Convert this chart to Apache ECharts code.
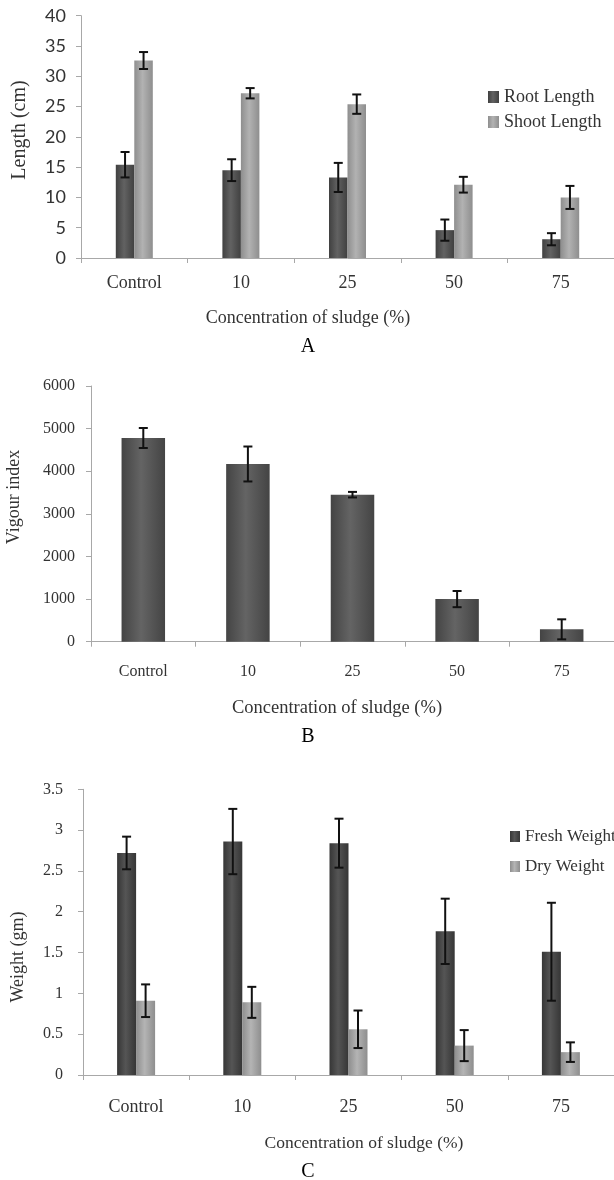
<!DOCTYPE html>
<html>
<head>
<meta charset="utf-8">
<script src="https://cdn.jsdelivr.net/npm/echarts@6/dist/echarts.min.js"></script>
<style>
html,body{margin:0;padding:0;background:#fff;}
#main{width:614px;height:1180px;}
</style>
</head>
<body>
<div id="main"></div>
<script>
const categories = ['Control', '10', '25', '50', '75'];
const lengthTicks = [0, 40, 5];
const rootLength = [15.4, 14.5, 13.3, 4.6, 3.1];
const rootErr = [2.1, 1.8, 2.4, 1.75, 1.0];
const shootLength = [32.6, 27.2, 25.4, 12.1, 10.0];
const shootErr = [1.4, 0.85, 1.6, 1.3, 1.9];
const vigourTicks = [0, 6000, 1000];
const vigourIndex = [4780, 4170, 3450, 1000, 290];
const vigourErr = [235, 410, 65, 190, 235];
const weightTicks = [0, 3.5, 0.5];
const freshWeight = [2.72, 2.86, 2.84, 1.76, 1.51];
const freshErr = [0.2, 0.4, 0.3, 0.4, 0.6];
const dryWeight = [0.91, 0.89, 0.56, 0.36, 0.28];
const dryErr = [0.2, 0.19, 0.23, 0.19, 0.12];

const SERIF = "'Liberation Serif', 'DejaVu Serif', serif";
const SANS = "Lato, 'Liberation Sans', sans-serif";
const AXIS_COLOR = '#a8a8a8';
const TEXT = '#333';

function grad(edge, mid) {
  return new echarts.graphic.LinearGradient(0, 0, 1, 0, [
    {offset: 0, color: edge}, {offset: 0.45, color: mid}, {offset: 1, color: edge}
  ]);
}
function errData(vals, errs) {
  return vals.map((v, i) => [i, v - errs[i], v + errs[i]]);
}
function errSeries(idx, vals, errs, offset) {
  return {
    type: 'custom', xAxisIndex: idx, yAxisIndex: idx, z: 10,
    encode: {x: 0, y: [1, 2]},
    data: errData(vals, errs),
    renderItem: function (params, api) {
      const i = api.value(0);
      const lo = api.coord([i, api.value(1)]);
      const hi = api.coord([i, api.value(2)]);
      const x = lo[0] + offset;
      const c = 4.5;
      const st = {stroke: '#111', lineWidth: 2};
      return {type: 'group', children: [
        {type: 'line', shape: {x1: x, y1: hi[1], x2: x, y2: lo[1]}, style: st},
        {type: 'line', shape: {x1: x - c, y1: hi[1], x2: x + c, y2: hi[1]}, style: st},
        {type: 'line', shape: {x1: x - c, y1: lo[1], x2: x + c, y2: lo[1]}, style: st}
      ]};
    }
  };
}
function xAx(idx, size, margin) {
  return {
    type: 'category', gridIndex: idx, data: categories,
    axisLine: {show: true, lineStyle: {color: AXIS_COLOR, width: 1}},
    axisTick: {show: true, length: 5, lineStyle: {color: AXIS_COLOR}},
    axisLabel: {fontFamily: SERIF, fontSize: size, color: TEXT, margin: margin},
    splitLine: {show: false}
  };
}
function yAx(idx, ticks, font, size, margin) {
  return {
    type: 'value', gridIndex: idx, min: ticks[0], max: ticks[1], interval: ticks[2],
    axisLine: {show: true, lineStyle: {color: AXIS_COLOR, width: 1}},
    axisTick: {show: true, length: 5, lineStyle: {color: AXIS_COLOR}},
    axisLabel: {fontFamily: font, fontSize: size, color: TEXT, margin: margin,
      formatter: function (v) { return String(v); }},
    splitLine: {show: false}
  };
}
function txt(x, y, text, size, rot, color) {
  return {type: 'text', x: x, y: y, rotation: rot || 0,
    style: {text: text, fontFamily: SERIF, fontSize: size, fill: color || TEXT,
      align: 'center', verticalAlign: 'middle'}};
}

const chart = echarts.init(document.getElementById('main'), null, {renderer: 'canvas'});
chart.setOption({
  animation: false,
  backgroundColor: '#fff',
  grid: [
    {left: 81, top: 15.7, width: 543.5, height: 242.3},
    {left: 91, top: 386, width: 545, height: 255.7},
    {left: 83, top: 789.3, width: 567, height: 285.7}
  ],
  xAxis: [xAx(0, 18, 16), xAx(1, 16, 22), xAx(2, 18, 23)],
  yAxis: [
    yAx(0, lengthTicks, SANS, 18, 15),
    yAx(1, vigourTicks, SERIF, 16, 16),
    yAx(2, weightTicks, SERIF, 16, 20)
  ],
  legend: [
    {orient: 'vertical', left: 483, top: 83, itemWidth: 11, itemHeight: 12, itemGap: 7,
      icon: 'rect', data: ['Root Length', 'Shoot Length'],
      textStyle: {fontFamily: SERIF, fontSize: 18, color: TEXT, lineHeight: 18}},
    {orient: 'vertical', left: 505, top: 823, itemWidth: 10, itemHeight: 11, itemGap: 13,
      icon: 'rect', data: ['Fresh Weight', 'Dry Weight'],
      textStyle: {fontFamily: SERIF, fontSize: 17, color: TEXT, lineHeight: 17}}
  ],
  graphic: [
    txt(20, 130, 'Length (cm)', 20, Math.PI / 2),
    txt(308, 318, 'Concentration of sludge (%)', 18),
    txt(308, 347, 'A', 20, 0, '#000'),
    txt(14, 497, 'Vigour index', 18, Math.PI / 2),
    txt(337, 708, 'Concentration of sludge (%)', 18.5),
    txt(308, 737, 'B', 20, 0, '#000'),
    txt(18, 957, 'Weight (gm)', 18, Math.PI / 2),
    txt(364, 1143, 'Concentration of sludge (%)', 17.5),
    txt(308, 1172, 'C', 20, 0, '#000')
  ],
  series: [
    {name: 'Root Length', type: 'bar', xAxisIndex: 0, yAxisIndex: 0, data: rootLength,
      barWidth: 18.5, barGap: '0%', itemStyle: {color: grad('#404040', '#626262')}},
    {name: 'Shoot Length', type: 'bar', xAxisIndex: 0, yAxisIndex: 0, data: shootLength,
      barWidth: 18.5, barGap: '0%', itemStyle: {color: grad('#8e8e8e', '#b2b2b2')}},
    errSeries(0, rootLength, rootErr, -9.25),
    errSeries(0, shootLength, shootErr, 9.25),
    {name: 'Vigour index', type: 'bar', xAxisIndex: 1, yAxisIndex: 1, data: vigourIndex,
      barWidth: 43.5, itemStyle: {color: grad('#444444', '#646464')}},
    errSeries(1, vigourIndex, vigourErr, 0),
    {name: 'Fresh Weight', type: 'bar', xAxisIndex: 2, yAxisIndex: 2, data: freshWeight,
      barWidth: 19, barGap: '0%', itemStyle: {color: grad('#363636', '#555555')}},
    {name: 'Dry Weight', type: 'bar', xAxisIndex: 2, yAxisIndex: 2, data: dryWeight,
      barWidth: 19, barGap: '0%', itemStyle: {color: grad('#8e8e8e', '#b4b4b4')}},
    errSeries(2, freshWeight, freshErr, -9.5),
    errSeries(2, dryWeight, dryErr, 9.5)
  ]
});
</script>
</body>
</html>
